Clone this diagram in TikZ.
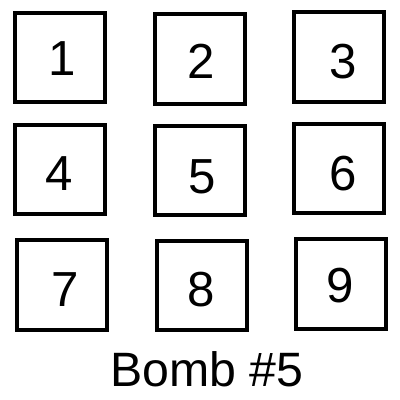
\documentclass[tikz,border=0pt]{standalone}
\usepackage{fontspec}
\setmainfont{Liberation Sans}
\usepackage{tikz}
\usetikzlibrary{positioning}

\begin{document}
\begin{tikzpicture}[
    x=0.025cm, y=-0.025cm,
    cell/.style={draw, line width=2.9pt, minimum width=2.23cm,
                 minimum height=2.23cm, inner sep=0pt},
    digit/.style={font=\fontsize{35}{40}\selectfont, inner sep=0pt}
]
    \useasboundingbox (0,0) rectangle (400,400);

    % top row
    \node[cell] (c1) at (60.0,57.7) {};
    \node[cell] (c2) at (200.0,59.0) {};
    \node[cell] (c3) at (339.0,57.0) {};
    % middle row
    \node[cell] (c4) at (60.0,169.3) {};
    \node[cell] (c5) at (200.0,170.5) {};
    \node[cell] (c6) at (339.0,168.7) {};
    % bottom row
    \node[cell] (c7) at (62.0,285.0) {};
    \node[cell] (c8) at (202.0,285.8) {};
    \node[cell] (c9) at (341.0,284.0) {};

    \node[digit] (d1) at (61.7,58.8) {1};
    \node[digit] (d2) at (201.0,61.0) {2};
    \node[digit] (d3) at (342.8,61.7) {3};
    \node[digit] (d4) at (59.2,173.3) {4};
    \node[digit] (d5) at (202.0,176.5) {5};
    \node[digit] (d6) at (342.8,173.3) {6};
    \node[digit] (d7) at (65.3,289.2) {7};
    \node[digit] (d8) at (201.0,290.0) {8};
    \node[digit] (d9) at (339.7,285.5) {9};

    \node[anchor=base, inner sep=0pt, font=\fontsize{34.3}{40}\selectfont]
        (title) at (206.7,386) {Bomb \#5};
\end{tikzpicture}
\end{document}
